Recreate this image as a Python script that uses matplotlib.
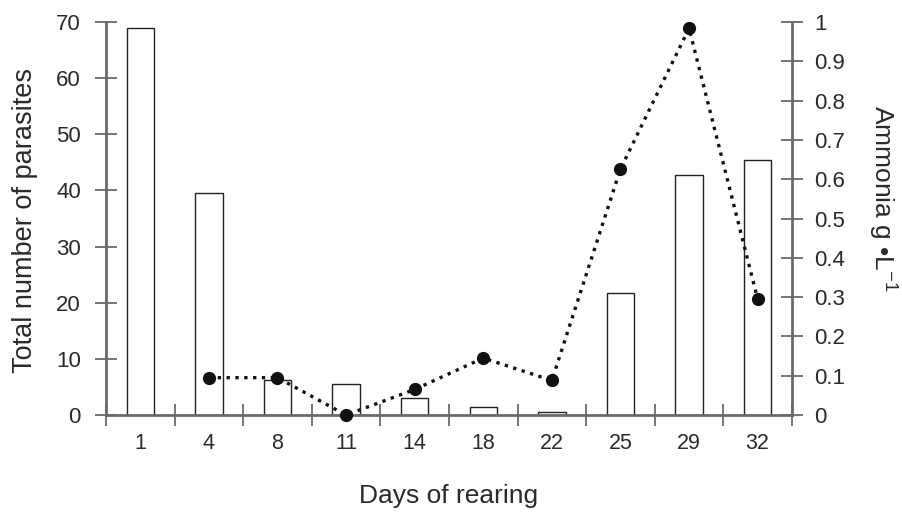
import matplotlib

matplotlib.use("Agg")

import matplotlib.pyplot as plt
import numpy as np

plt.rcParams["font.family"] = ["Liberation Sans", "DejaVu Sans"]
plt.rcParams["mathtext.fontset"] = "custom"
plt.rcParams["mathtext.rm"] = "Liberation Sans"
plt.rcParams["mathtext.it"] = "Liberation Sans:italic"

days = ["1", "4", "8", "11", "14", "18", "22", "25", "29", "32"]
parasites = [69, 39.6, 6.2, 5.5, 3.1, 1.4, 0.6, 21.7, 42.7, 45.5]
ammonia_days = ["4", "8", "11", "14", "18", "22", "25", "29", "32"]
ammonia = [0.095, 0.095, 0.0, 0.065, 0.145, 0.088, 0.626, 0.984, 0.295]

axis_col = "#6a6a6a"
text_col = "#2a2a2a"
x = np.arange(len(days))
xa = [days.index(d) for d in ammonia_days]

fig = plt.figure(figsize=(9.02, 5.18), dpi=100)
ax = fig.add_axes([0.1175, 0.1988, 0.7605, 0.7587])
ax.bar(x, parasites, width=0.4, color="white", edgecolor="#222222", linewidth=1.0, zorder=2)
ax.set_xlim(-0.5, len(days) - 0.5)
ax.set_ylim(0, 70)
ax.set_yticks(np.arange(0, 71, 10))
ax.set_xticks(x)
ax.set_xticklabels(days)
ax.set_xticks(np.arange(-0.5, len(days), 1.0), minor=True)
ax.tick_params(axis="x", which="major", length=0, pad=13, labelsize=15.5, colors=text_col)
ax.tick_params(axis="x", which="minor", direction="inout", length=16, width=1.3, color=axis_col)
ax.tick_params(axis="y", direction="inout", length=16, width=1.3, color=axis_col,
               pad=10, labelsize=16, labelcolor=text_col)
for s in ["left", "bottom"]:
    ax.spines[s].set_color(axis_col)
    ax.spines[s].set_linewidth(2.0)
ax.spines["top"].set_visible(False)
ax.spines["right"].set_visible(False)

ax.set_ylabel("Total number of parasites", fontsize=19.5, color=text_col)
ax.yaxis.label.set_va("center")
ax.yaxis.set_label_coords(-0.118, 0.495)
ax.set_xlabel("Days of rearing", fontsize=19, color=text_col)
ax.xaxis.label.set_va("center")
ax.xaxis.set_label_coords(0.5, -0.205)

ax2 = ax.twinx()
ax2.plot(xa, ammonia, linestyle=":", linewidth=2.4, color="#111111",
         marker="o", markersize=8.5, zorder=3, clip_on=False)
ax2.set_ylim(0, 1)
ax2.set_yticks(np.arange(0, 1.01, 0.1))
ax2.set_yticklabels(["0"] + [f"{v:.1f}" for v in np.arange(0.1, 0.95, 0.1)] + ["1"])
ax2.tick_params(axis="y", direction="inout", length=16, width=1.3, color=axis_col,
                pad=8, labelsize=16, labelcolor=text_col)
ax2.spines["right"].set_color(axis_col)
ax2.spines["right"].set_linewidth(2.0)
for s in ["left", "bottom", "top"]:
    ax2.spines[s].set_visible(False)
ax2.set_ylabel("Ammonia g \u2022L$^{-1}$", fontsize=19, color=text_col, rotation=270)
ax2.yaxis.label.set_va("center")
ax2.yaxis.label.set_ha("center")
ax2.yaxis.set_label_coords(1.131, 0.552)

fig.savefig("out.png", dpi=100)
